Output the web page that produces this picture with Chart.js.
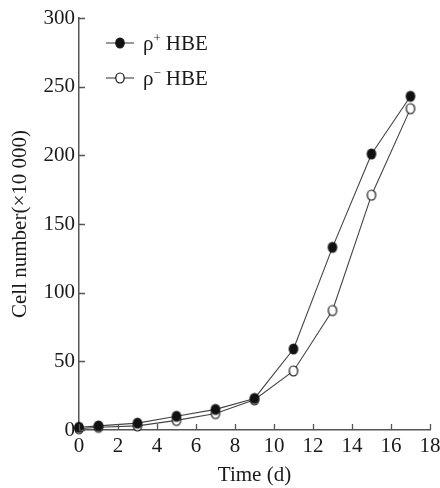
<!DOCTYPE html>
<html>
<head>
<meta charset="utf-8">
<script src="https://cdn.jsdelivr.net/npm/chart.js@4"></script>
<style>
  html, body { margin: 0; padding: 0; background: #fff; }
  #wrap { width: 440px; height: 488px; }
</style>
</head>
<body>
<div id="wrap"><canvas id="chart" width="440" height="488"></canvas></div>
<script>
const days = [0, 1, 3, 5, 7, 9, 11, 13, 15, 17];
const rhoPlus = [2, 3, 5, 10, 15, 23, 59, 133, 201, 243];
const rhoMinus = [1, 2, 3, 7, 12, 22, 43, 87, 171, 234];
const xTicks = [0, 2, 4, 6, 8, 10, 12, 14, 16, 18];
const yTicks = [0, 50, 100, 150, 200, 250, 300];

const FONT = '"Liberation Serif", "Times New Roman", serif';
const FS = 21;
const INK = '#1a1a1a';
const AXIS = '#555';

const toXY = (vals) => vals.map((v, i) => ({ x: days[i], y: v }));

// ticks point into the plot, so draw them ourselves
const inwardTicks = {
  id: 'inwardTicks',
  afterDraw(chart) {
    const { ctx, chartArea, scales } = chart;
    ctx.save();
    ctx.strokeStyle = AXIS;
    ctx.lineWidth = 1.3;
    ctx.beginPath();
    xTicks.forEach(t => {
      const px = Math.round(scales.x.getPixelForValue(t)) + 0.5;
      ctx.moveTo(px, chartArea.bottom);
      ctx.lineTo(px, chartArea.bottom - 6);
    });
    yTicks.forEach(t => {
      const py = Math.round(scales.y.getPixelForValue(t)) + 0.5;
      ctx.moveTo(chartArea.left, py);
      ctx.lineTo(chartArea.left + 6, py);
    });
    ctx.stroke();
    ctx.restore();
  }
};

function marker(ctx, x, y, filled) {
  ctx.beginPath();
  ctx.ellipse(x, y, 4.2, 5, 0, 0, Math.PI * 2);
  ctx.fillStyle = filled ? '#111' : '#fff';
  ctx.fill();
  ctx.lineWidth = 1.2;
  ctx.strokeStyle = '#111';
  ctx.stroke();
}

const legendBox = {
  id: 'legendBox',
  afterDraw(chart) {
    const { ctx } = chart;
    const rows = [
      { y: 43, sup: '+', filled: true },
      { y: 78, sup: '\u2212', filled: false }
    ];
    ctx.save();
    rows.forEach(r => {
      ctx.strokeStyle = '#444';
      ctx.lineWidth = 1.1;
      ctx.beginPath();
      ctx.moveTo(106, r.y);
      ctx.lineTo(134, r.y);
      ctx.stroke();
      marker(ctx, 120, r.y, r.filled);
      ctx.fillStyle = INK;
      ctx.textBaseline = 'alphabetic';
      ctx.font = FS + 'px ' + FONT;
      ctx.fillText('\u03c1', 143, r.y + 7);
      const w = ctx.measureText('\u03c1').width;
      ctx.font = '13px ' + FONT;
      ctx.fillText(r.sup, 143 + w, r.y - 1);
      const ws = ctx.measureText(r.sup).width;
      ctx.font = FS + 'px ' + FONT;
      ctx.fillText('HBE', 143 + w + ws + 5, r.y + 7);
    });
    ctx.restore();
  }
};

const pointStyleFor = (filled) => {
  const c = document.createElement('canvas');
  c.width = 12; c.height = 14;
  marker(c.getContext('2d'), 6, 7, filled);
  return c;
};

new Chart(document.getElementById('chart'), {
  type: 'line',
  data: {
    datasets: [
      {
        label: '\u03c1+ HBE',
        data: toXY(rhoPlus),
        borderColor: '#444',
        borderWidth: 1.1,
        pointStyle: pointStyleFor(true),
        tension: 0
      },
      {
        label: '\u03c1\u2212 HBE',
        data: toXY(rhoMinus),
        borderColor: '#444',
        borderWidth: 1.1,
        pointStyle: pointStyleFor(false),
        tension: 0
      }
    ]
  },
  options: {
    responsive: false,
    animation: false,
    clip: false,
    layout: { padding: { top: 18, right: 0, left: 0, bottom: 0 } },
    plugins: {
      legend: { display: false },
      tooltip: { enabled: false }
    },
    scales: {
      x: {
        type: 'linear',
        min: 0,
        max: 18,
        afterBuildTicks: s => { s.ticks = xTicks.map(v => ({ value: v })); },
        afterFit: s => { s.height = 58; s.paddingRight = 10; },
        ticks: { color: INK, font: { family: FONT, size: FS }, padding: 4 },
        grid: { drawOnChartArea: false, drawTicks: false },
        border: { color: AXIS, width: 1.5 },
        title: {
          display: true,
          text: 'Time (d)',
          color: INK,
          font: { family: FONT, size: FS },
          padding: { top: 3, bottom: 0 }
        }
      },
      y: {
        min: 0,
        max: 300,
        afterBuildTicks: s => { s.ticks = yTicks.map(v => ({ value: v })); },
        afterFit: s => { s.width = 79; },
        ticks: { color: INK, font: { family: FONT, size: FS }, padding: 4 },
        grid: { drawOnChartArea: false, drawTicks: false },
        border: { color: AXIS, width: 1.5 },
        title: {
          display: true,
          text: 'Cell number(\u00d710 000)',
          color: INK,
          font: { family: FONT, size: FS },
          padding: { top: 8, bottom: 2 }
        }
      }
    }
  },
  plugins: [inwardTicks, legendBox]
});
</script>
</body>
</html>
